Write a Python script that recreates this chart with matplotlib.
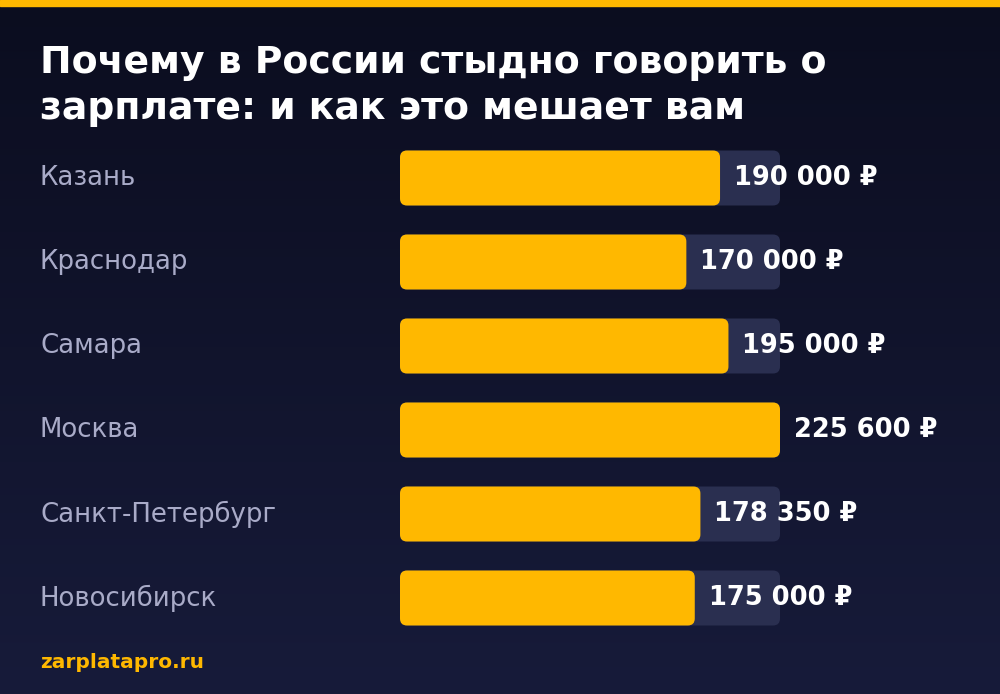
import numpy as np
import matplotlib.pyplot as plt
from matplotlib.patches import FancyBboxPatch

plt.rcParams['font.family'] = ['DejaVu Sans']

# данные
cities = ["Казань", "Краснодар", "Самара", "Москва", "Санкт-Петербург", "Новосибирск"]
salaries = [190000, 170000, 195000, 225600, 178350, 175000]
labels = ["190 000 ₽", "170 000 ₽", "195 000 ₽", "225 600 ₽", "178 350 ₽", "175 000 ₽"]

fig = plt.figure(figsize=(10, 6.94), dpi=100)
ax = fig.add_axes([0, 0, 1, 1])
ax.set_xlim(0, 1000)
ax.set_ylim(694, 0)
ax.axis("off")

# фон с градиентом
grad = np.linspace(0, 1, 256).reshape(-1, 1)
top = np.array([11, 13, 31]) / 255
bot = np.array([23, 27, 58]) / 255
img = top + (bot - top) * grad[..., None]
ax.imshow(img, extent=[0, 1000, 694, 0], aspect="auto", zorder=0)
ax.add_patch(plt.Rectangle((0, 0), 1000, 6, color="#FFB800", zorder=1))

ax.text(40, 63, "Почему в России стыдно говорить о", color="white", fontsize=27.2,
        fontweight="bold", va="center")
ax.text(40, 109, "зарплате: и как это мешает вам", color="white", fontsize=27.2,
        fontweight="bold", va="center")

x0, width, h = 400, 380, 55
vmax = max(salaries)
for i, (c, v, lab) in enumerate(zip(cities, salaries, labels)):
    y = 178 + 84 * i
    ax.add_patch(FancyBboxPatch((x0, y - h / 2), width, h, boxstyle="round,pad=0,rounding_size=7",
                                fc="#2a2f50", ec="none", zorder=2))
    w = width * v / vmax
    ax.add_patch(FancyBboxPatch((x0, y - h / 2), w, h, boxstyle="round,pad=0,rounding_size=7",
                                fc="#FFB800", ec="none", zorder=3))
    ax.text(40, y, c, color="#a9abc8", fontsize=18.7, va="center")
    ax.text(x0 + w + 14, y, lab, color="white", fontsize=18.5, fontweight="bold", va="center")

ax.text(40, 663, "zarplatapro.ru", color="#FFB800", fontsize=14.5, fontweight="bold", va="center")

fig.savefig("out.png", dpi=100)
